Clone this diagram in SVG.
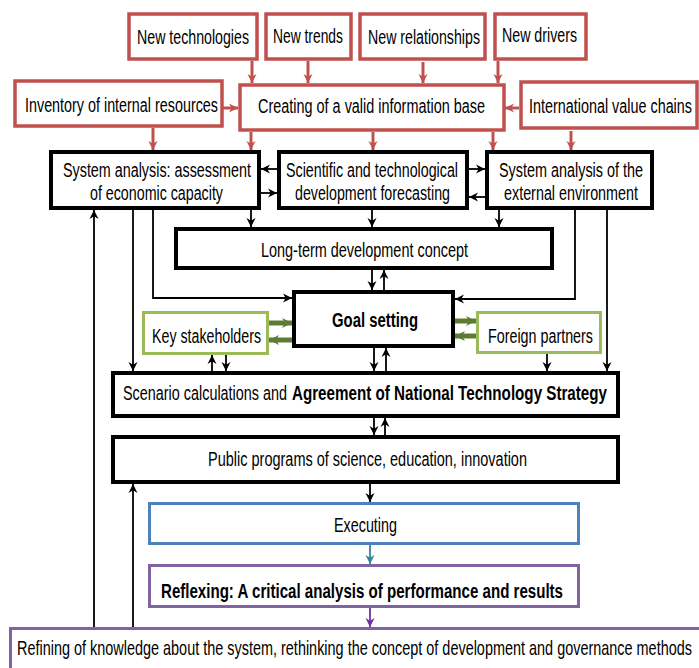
<svg xmlns="http://www.w3.org/2000/svg" width="699" height="668" viewBox="0 0 699 668">
<style>
text{font-family:"Liberation Sans Narrow","Liberation Sans",Arial,sans-serif;font-size:21px;fill:#000}
.b{font-weight:bold}
.red{fill:#fff;stroke:#C0504D;stroke-width:3.5}
.blk{fill:#fff;stroke:#000;stroke-width:4}
.grn{fill:#fff;stroke:#9BBB59;stroke-width:3}
.blu{fill:#fff;stroke:#4F81BD;stroke-width:3}
.pur{fill:#fff;stroke:#8064A2;stroke-width:3}
.cb{fill:none;stroke:#000;stroke-width:1.8;marker-end:url(#ab)}
.cr{fill:none;stroke:#C0504D;stroke-width:3;marker-end:url(#ar)}
.cg{fill:none;stroke:#5E7B34;stroke-width:5;marker-end:url(#ag)}
.ct{fill:none;stroke:#31859C;stroke-width:1.8;marker-end:url(#at)}
.cp{fill:none;stroke:#7030A0;stroke-width:1.8;marker-end:url(#ap)}
</style>
<defs>
<marker id="ab" viewBox="0 0 10 10" refX="10" refY="5" markerWidth="9" markerHeight="10" markerUnits="userSpaceOnUse" orient="auto"><path d="M0,0 L10,5 L0,10 L3,5 z" fill="#000"/></marker>
<marker id="ar" viewBox="0 0 10 10" refX="10" refY="5" markerWidth="9" markerHeight="11" markerUnits="userSpaceOnUse" orient="auto"><path d="M0,0 L10,5 L0,10 L3,5 z" fill="#C0504D"/></marker>
<marker id="ag" viewBox="0 0 10 10" refX="10" refY="5" markerWidth="10" markerHeight="13" markerUnits="userSpaceOnUse" orient="auto"><path d="M0,0 L10,5 L0,10 L3,5 z" fill="#5E7B34"/></marker>
<marker id="at" viewBox="0 0 10 10" refX="10" refY="5" markerWidth="9" markerHeight="10" markerUnits="userSpaceOnUse" orient="auto"><path d="M0,0 L10,5 L0,10 L3,5 z" fill="#31859C"/></marker>
<marker id="ap" viewBox="0 0 10 10" refX="10" refY="5" markerWidth="9" markerHeight="10" markerUnits="userSpaceOnUse" orient="auto"><path d="M0,0 L10,5 L0,10 L3,5 z" fill="#7030A0"/></marker>
</defs>
<rect width="699" height="668" fill="#fff"/>

<g id="connectors">
<line class="cr" x1="252" y1="61" x2="252" y2="83"/>
<line class="cr" x1="308" y1="61" x2="308" y2="83"/>
<line class="cr" x1="423" y1="62" x2="423" y2="83"/>
<line class="cr" x1="498" y1="61" x2="498" y2="83"/>
<line class="cr" x1="223" y1="108" x2="238" y2="108"/>
<line class="cr" x1="519" y1="108" x2="505" y2="108"/>
<line class="cr" x1="153" y1="128" x2="153" y2="150"/>
<line class="cr" x1="251" y1="132" x2="251" y2="150"/>
<line class="cr" x1="373" y1="132" x2="373" y2="150"/>
<line class="cr" x1="493" y1="132" x2="493" y2="150"/>
<line class="cr" x1="571" y1="131" x2="571" y2="150"/>
<line class="cb" x1="277" y1="169" x2="261" y2="169"/>
<line class="cb" x1="261" y1="193" x2="277" y2="193"/>
<line class="cb" x1="469" y1="169" x2="485" y2="169"/>
<line class="cb" x1="485" y1="197" x2="469" y2="197"/>
<line class="cb" x1="251" y1="210" x2="251" y2="227"/>
<line class="cb" x1="372" y1="210" x2="372" y2="227"/>
<line class="cb" x1="499" y1="210" x2="499" y2="227"/>
<line class="cb" x1="133" y1="210" x2="133" y2="371"/>
<path class="cb" d="M153,210 V298 H292"/>
<path class="cb" d="M575,210 V299 H455"/>
<line class="cb" x1="607" y1="210" x2="607" y2="371"/>
<line class="cb" x1="372" y1="270" x2="372" y2="290"/>
<line class="cb" x1="384" y1="290" x2="384" y2="270"/>
<line class="cg" x1="269" y1="323" x2="292" y2="323"/>
<line class="cg" x1="292" y1="340" x2="269" y2="340"/>
<line class="cg" x1="455" y1="321" x2="476" y2="321"/>
<line class="cg" x1="476" y1="336" x2="455" y2="336"/>
<line class="cb" x1="212" y1="371" x2="212" y2="355"/>
<line class="cb" x1="226" y1="355" x2="226" y2="371"/>
<line class="cb" x1="547" y1="354" x2="547" y2="371"/>
<line class="cb" x1="374" y1="348" x2="374" y2="371"/>
<line class="cb" x1="386" y1="371" x2="386" y2="348"/>
<line class="cb" x1="374" y1="418" x2="374" y2="435"/>
<line class="cb" x1="385" y1="435" x2="385" y2="418"/>
<line class="cb" x1="370" y1="484" x2="370" y2="502"/>
<line class="ct" x1="370" y1="545" x2="370" y2="564"/>
<line class="cp" x1="370" y1="608" x2="370" y2="627"/>
<line class="cb" x1="94" y1="627" x2="94" y2="210"/>
<line class="cb" x1="133" y1="627" x2="133" y2="484"/>
</g>

<g id="new-technologies"><rect class="red" x="129" y="14" width="128" height="45"/><text transform="scale(0.8,1)" x="171.25" y="44" textLength="140" lengthAdjust="spacingAndGlyphs">New technologies</text></g>
<g id="new-trends"><rect class="red" x="266" y="14" width="85" height="45"/><text transform="scale(0.8,1)" x="341.25" y="43" textLength="87.5" lengthAdjust="spacingAndGlyphs">New trends</text></g>
<g id="new-relationships"><rect class="red" x="360" y="14" width="125" height="45"/><text transform="scale(0.8,1)" x="460" y="44" textLength="140" lengthAdjust="spacingAndGlyphs">New relationships</text></g>
<g id="new-drivers"><rect class="red" x="495" y="14" width="91" height="45"/><text transform="scale(0.8,1)" x="627.5" y="42" textLength="93.75" lengthAdjust="spacingAndGlyphs">New drivers</text></g>
<g id="inventory"><rect class="red" x="15" y="81" width="207" height="45"/><text transform="scale(0.8,1)" x="31.25" y="112" textLength="241.25" lengthAdjust="spacingAndGlyphs">Inventory of internal resources</text></g>
<g id="creating"><rect class="red" x="240" y="85" width="264" height="45"/><text transform="scale(0.8,1)" x="322.5" y="113" textLength="283.75" lengthAdjust="spacingAndGlyphs">Creating of a valid information base</text></g>
<g id="international"><rect class="red" x="521" y="82" width="176" height="46"/><text transform="scale(0.72,1)" x="734.72" y="113" textLength="226.39" lengthAdjust="spacingAndGlyphs">International value chains</text></g>

<g id="system-analysis"><rect class="blk" x="51" y="152" width="208" height="56"/><text transform="scale(0.8,1)" x="78.75" y="177" textLength="235" lengthAdjust="spacingAndGlyphs">System analysis: assessment</text><text transform="scale(0.8,1)" x="112.5" y="200" textLength="166.25" lengthAdjust="spacingAndGlyphs">of economic capacity</text></g>
<g id="forecasting"><rect class="blk" x="279" y="152" width="188" height="56"/><text transform="scale(0.8,1)" x="357.5" y="177" textLength="215" lengthAdjust="spacingAndGlyphs">Scientific and technological</text><text transform="scale(0.8,1)" x="368.75" y="200" textLength="193.75" lengthAdjust="spacingAndGlyphs">development forecasting</text></g>
<g id="external"><rect class="blk" x="487" y="152" width="165" height="56"/><text transform="scale(0.8,1)" x="623.75" y="177" textLength="180" lengthAdjust="spacingAndGlyphs">System analysis of the</text><text transform="scale(0.8,1)" x="630" y="200" textLength="167.5" lengthAdjust="spacingAndGlyphs">external environment</text></g>
<g id="long-term"><rect class="blk" x="176" y="229" width="376" height="39"/><text transform="scale(0.8,1)" x="326.25" y="257" textLength="258.75" lengthAdjust="spacingAndGlyphs">Long-term development concept</text></g>
<g id="goal-setting"><rect class="blk" x="294" y="292" width="159" height="54"/><text class="b" transform="scale(0.8,1)" x="415" y="327" textLength="107.5" lengthAdjust="spacingAndGlyphs">Goal setting</text></g>
<g id="key-stakeholders"><rect class="grn" x="143.5" y="312.5" width="124" height="41"/><text transform="scale(0.8,1)" x="190" y="343" textLength="136.25" lengthAdjust="spacingAndGlyphs">Key stakeholders</text></g>
<g id="foreign-partners"><rect class="grn" x="477.5" y="312.5" width="123" height="40"/><text transform="scale(0.8,1)" x="610" y="343" textLength="131.25" lengthAdjust="spacingAndGlyphs">Foreign partners</text></g>
<g id="scenario"><rect class="blk" x="113" y="373" width="505" height="43"/><text transform="scale(0.72,1)" x="170.83" y="400" textLength="227.78" lengthAdjust="spacingAndGlyphs">Scenario calculations and</text><text class="b" transform="scale(0.72,1)" x="405.56" y="400" textLength="437.5" lengthAdjust="spacingAndGlyphs">Agreement of National Technology Strategy</text></g>
<g id="public-programs"><rect class="blk" x="113" y="437" width="505" height="45"/><text transform="scale(0.8,1)" x="260" y="466" textLength="398.75" lengthAdjust="spacingAndGlyphs">Public programs of science, education, innovation</text></g>
<g id="executing"><rect class="blu" x="149.5" y="503.5" width="429" height="40"/><text transform="scale(0.8,1)" x="417.5" y="532" textLength="78.75" lengthAdjust="spacingAndGlyphs">Executing</text></g>
<g id="reflexing"><rect class="pur" x="149.5" y="565.5" width="429" height="41"/><text class="b" transform="scale(0.8,1)" x="201.25" y="598" textLength="502.5" lengthAdjust="spacingAndGlyphs">Reflexing: A critical analysis of performance and results</text></g>
<g id="refining"><rect class="pur" x="10.5" y="628.5" width="700" height="50"/><text transform="scale(0.66,1)" x="25.76" y="655" textLength="1022.7" lengthAdjust="spacingAndGlyphs">Refining of knowledge about the system, rethinking the concept of development and governance methods</text></g>
</svg>
